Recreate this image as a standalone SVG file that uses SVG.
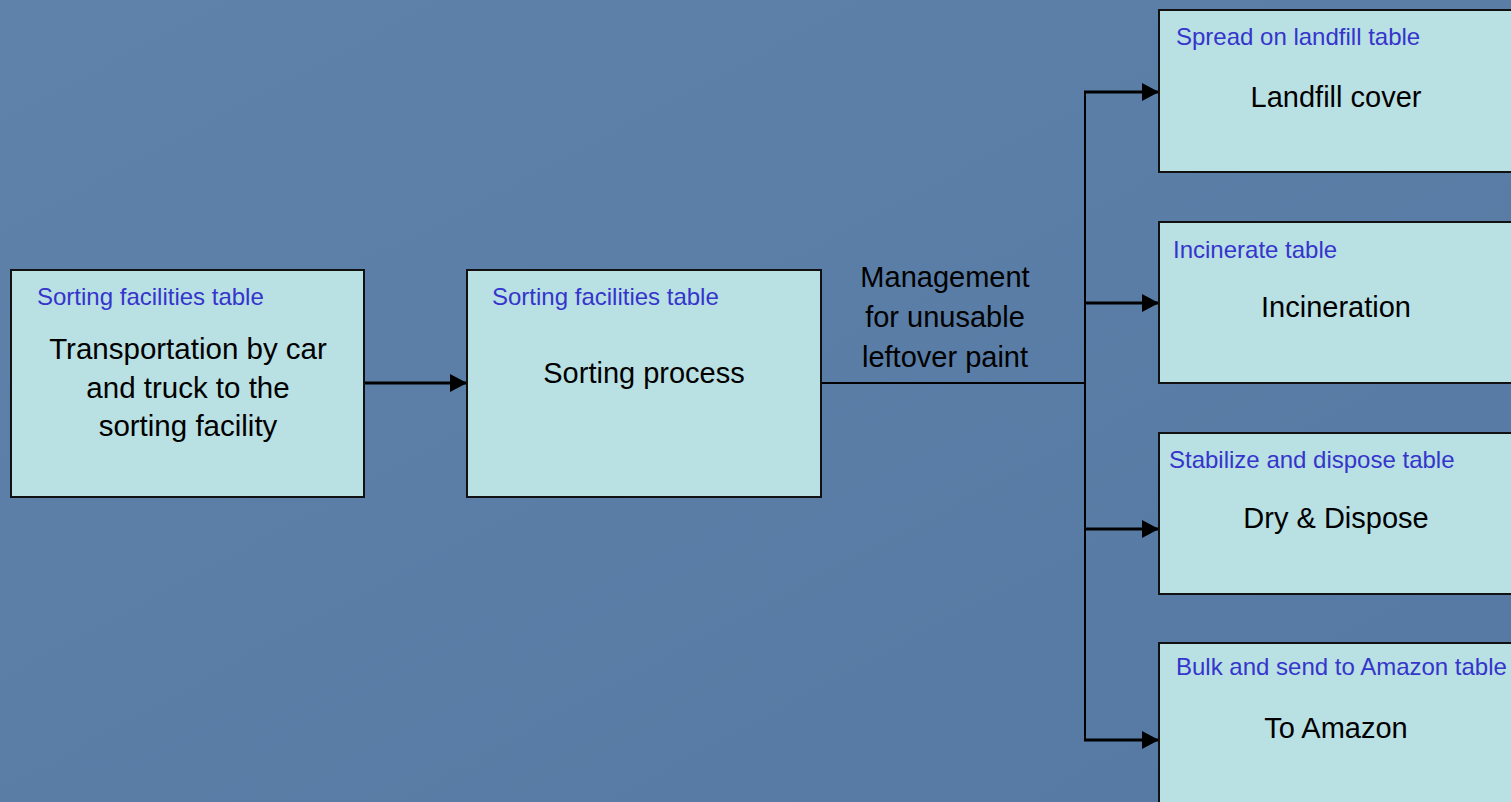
<svg xmlns="http://www.w3.org/2000/svg" width="1511" height="802" viewBox="0 0 1511 802">
<style>
.box{fill:#b9e0e3;stroke:#111;stroke-width:2}
.lbl{font-family:"Liberation Sans",Arial,sans-serif;font-size:24px;fill:#3535cc}
.txt{font-family:"Liberation Sans",Arial,sans-serif;font-size:29px;fill:#000;text-anchor:middle}
.arr{stroke:#000;stroke-width:3;fill:none;marker-end:url(#ah)}
.ln{stroke:#000;stroke-width:2;fill:none}
</style>
<defs>
<marker id="ah" markerUnits="userSpaceOnUse" markerWidth="17" markerHeight="18" refX="17" refY="9" orient="auto">
<path d="M0,0 L17,9 L0,18 Z" fill="#000"/>
</marker>
<linearGradient id="bg" x1="0" y1="0" x2="1" y2="1">
<stop offset="0" stop-color="#5e82aa"/>
<stop offset="1" stop-color="#5579a2"/>
</linearGradient>
</defs>
<rect x="0" y="0" width="1511" height="802" fill="url(#bg)"/>
<g id="connectors">
<line class="arr" x1="364" y1="383" x2="467" y2="383"/>
<line class="ln" x1="821" y1="383" x2="1086" y2="383"/>
<line class="ln" x1="1085" y1="92" x2="1085" y2="741"/>
<line class="arr" x1="1084" y1="92" x2="1159" y2="92"/>
<line class="arr" x1="1084" y1="303" x2="1159" y2="303"/>
<line class="arr" x1="1084" y1="529" x2="1159" y2="529"/>
<line class="arr" x1="1084" y1="740" x2="1159" y2="740"/>
</g>
<g id="transport">
<rect class="box" x="11" y="270" width="353" height="227"/>
<text class="lbl" x="37" y="305">Sorting facilities table</text>
<text class="txt" x="188" y="359" style="font-size:29.5px">Transportation by car</text>
<text class="txt" x="188" y="398" style="font-size:29.5px">and truck to the</text>
<text class="txt" x="188" y="436" style="font-size:29.5px">sorting facility</text>
</g>
<g id="sorting">
<rect class="box" x="467" y="270" width="354" height="227"/>
<text class="lbl" x="492" y="305">Sorting facilities table</text>
<text class="txt" x="644" y="383">Sorting process</text>
</g>
<g id="mgmt-label">
<text class="txt" x="945" y="287">Management</text>
<text class="txt" x="945" y="327">for unusable</text>
<text class="txt" x="945" y="367">leftover paint</text>
</g>
<g id="landfill">
<rect class="box" x="1159" y="10" width="360" height="162"/>
<text class="lbl" x="1176" y="45">Spread on landfill table</text>
<text class="txt" x="1336" y="107">Landfill cover</text>
</g>
<g id="incinerate">
<rect class="box" x="1159" y="222" width="360" height="161"/>
<text class="lbl" x="1173" y="258">Incinerate table</text>
<text class="txt" x="1336" y="317">Incineration</text>
</g>
<g id="dispose">
<rect class="box" x="1159" y="433" width="360" height="161"/>
<text class="lbl" x="1169" y="468">Stabilize and dispose table</text>
<text class="txt" x="1336" y="528">Dry &amp; Dispose</text>
</g>
<g id="amazon">
<rect class="box" x="1159" y="643" width="360" height="170"/>
<text class="lbl" x="1176" y="675">Bulk and send to Amazon table</text>
<text class="txt" x="1336" y="738">To Amazon</text>
</g>
</svg>
